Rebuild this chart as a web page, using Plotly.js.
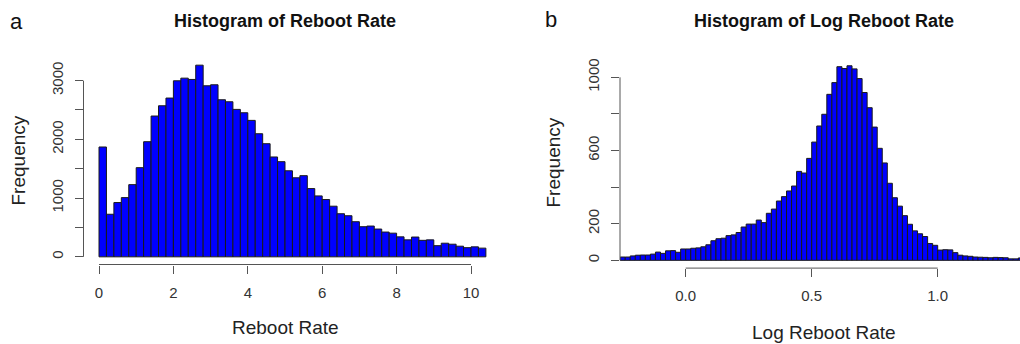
<!DOCTYPE html>
<html>
<head>
<meta charset="utf-8">
<script src="https://cdn.plot.ly/plotly-3.0.1.min.js"></script>
<style>html,body{margin:0;padding:0;background:#fff;}#chart{width:1020px;height:344px;}</style>
</head>
<body>
<div id="chart"></div>
<script>
// ---- Panel a: Reboot Rate histogram (breaks every 0.2 from 0) ----
var rebootBinStart = 0;
var rebootBinWidth = 0.2;
var rebootCounts = [1870, 725, 924, 1008, 1229, 1518, 1960, 2397, 2572, 2703,
  2997, 3042, 3020, 3263, 2912, 2929, 2674, 2640, 2510, 2453,
  2323, 2096, 1926, 1700, 1620, 1465, 1346, 1382, 1162, 1037,
  975, 862, 734, 700, 598, 513, 524, 473, 422, 403,
  340, 289, 337, 281, 289, 190, 232, 215, 181, 156,
  170, 148];
var rebootXTicks = [0, 2, 4, 6, 8, 10];
var rebootXTickText = ['0', '2', '4', '6', '8', '10'];
var rebootYTicks = [0, 500, 1000, 1500, 2000, 2500, 3000];
var rebootYTickText = ['0', '', '1000', '', '2000', '', '3000'];

// ---- Panel b: Log Reboot Rate histogram (breaks every 0.02 from -0.26) ----
var logBinStart = -0.26;
var logBinWidth = 0.02;
var logCounts = [18, 18, 24, 28, 29, 29, 34, 45, 38, 52,
  53, 44, 62, 62, 66, 68, 74, 85, 107, 118,
  121, 135, 139, 152, 182, 198, 198, 220, 206, 257,
  280, 324, 348, 379, 406, 486, 477, 557, 646, 734,
  798, 907, 971, 1058, 1048, 1063, 1046, 993, 917, 834,
  728, 612, 532, 421, 342, 296, 244, 197, 161, 145,
  130, 92, 82, 56, 58, 57, 42, 28, 24, 22,
  18, 17, 16, 14, 16, 15, 14, 8, 8, 13];
var logXTicks = [0, 0.5, 1.0];
var logXTickText = ['0.0', '0.5', '1.0'];
var logYTicks = [0, 200, 400, 600, 800, 1000];
var logYTickText = ['0', '200', '', '600', '', '1000'];

function centers(start, w, n) {
  var out = [];
  for (var i = 0; i < n; i++) out.push(start + (i + 0.5) * w);
  return out;
}

var W = 1020, H = 344;
function px(x) { return x / W; }
function py(y) { return 1 - y / H; }

var FONT = 'Liberation Sans, Arial, Helvetica, sans-serif';
var LINE = '#555555';
var TXT = '#333333';

var traces = [
  {
    type: 'bar',
    x: centers(rebootBinStart, rebootBinWidth, rebootCounts.length),
    y: rebootCounts,
    width: rebootBinWidth,
    marker: {color: '#0000ff', line: {color: '#1a1a1a', width: 1}},
    xaxis: 'x', yaxis: 'y',
    hoverinfo: 'x+y'
  },
  {
    type: 'bar',
    x: centers(logBinStart, logBinWidth, logCounts.length),
    y: logCounts,
    width: logBinWidth,
    marker: {color: '#0000ff', line: {color: '#1a1a1a', width: 1}},
    xaxis: 'x2', yaxis: 'y2',
    hoverinfo: 'x+y'
  }
];

var axisCommon = {
  showgrid: false, zeroline: false, showline: false,
  ticks: 'outside', ticklen: 8, tickwidth: 1, tickcolor: LINE,
  tickfont: {family: FONT, size: 15, color: TXT},
  tickmode: 'array', fixedrange: true
};

function merge(a, b) { var o = {}; for (var k in a) o[k] = a[k]; for (var k2 in b) o[k2] = b[k2]; return o; }

var xDom1 = [px(83.5), px(487)];
var yDom1 = [py(264.5), py(57.5)];
var xDom2 = [px(620), 1];
var yDom2 = [py(268.1), py(58)];

var layout = {
  width: W, height: H,
  margin: {l: 0, r: 0, t: 0, b: 0},
  paper_bgcolor: '#ffffff', plot_bgcolor: '#ffffff',
  showlegend: false,
  bargap: 0,
  xaxis: merge(axisCommon, {domain: xDom1, range: [-0.4167, 10.43], anchor: 'y',
    tickvals: rebootXTicks, ticktext: rebootXTickText, ticklabelstandoff: 6}),
  yaxis: merge(axisCommon, {domain: yDom1, range: [-130.5, 3393.5], anchor: 'x',
    tickvals: rebootYTicks, ticktext: rebootYTickText, tickangle: -90, ticklabelstandoff: 6}),
  xaxis2: merge(axisCommon, {domain: xDom2, range: [-0.2607, 1.3266], anchor: 'y2',
    tickvals: logXTicks, ticktext: logXTickText, ticklabelstandoff: 6}),
  yaxis2: merge(axisCommon, {domain: yDom2, range: [-42.5, 1105.5], anchor: 'x2',
    tickvals: logYTicks, ticktext: logYTickText, tickangle: -90, ticklabelstandoff: 6}),
  shapes: [
    {type: 'line', xref: 'x', yref: 'paper', x0: rebootXTicks[0], x1: rebootXTicks[rebootXTicks.length - 1], y0: yDom1[0], y1: yDom1[0], line: {color: LINE, width: 1}},
    {type: 'line', xref: 'paper', yref: 'y', x0: xDom1[0], x1: xDom1[0], y0: rebootYTicks[0], y1: rebootYTicks[rebootYTicks.length - 1], line: {color: LINE, width: 1}},
    {type: 'line', xref: 'x2', yref: 'paper', x0: logXTicks[0], x1: logXTicks[logXTicks.length - 1], y0: yDom2[0], y1: yDom2[0], line: {color: LINE, width: 1}},
    {type: 'line', xref: 'paper', yref: 'y2', x0: xDom2[0], x1: xDom2[0], y0: logYTicks[0], y1: logYTicks[logYTicks.length - 1], line: {color: LINE, width: 1}}
  ],
  annotations: [
    {text: 'a', xref: 'paper', yref: 'paper', x: px(16), y: py(21), showarrow: false, xanchor: 'center', yanchor: 'middle', font: {family: FONT, size: 22, color: '#111'}},
    {text: 'b', xref: 'paper', yref: 'paper', x: px(551), y: py(20), showarrow: false, xanchor: 'center', yanchor: 'middle', font: {family: FONT, size: 22, color: '#111'}},
    {text: '<b>Histogram of Reboot Rate</b>', xref: 'paper', yref: 'paper', x: px(285), y: py(21), showarrow: false, xanchor: 'center', yanchor: 'middle', font: {family: FONT, size: 18, color: '#111'}},
    {text: '<b>Histogram of Log Reboot Rate</b>', xref: 'paper', yref: 'paper', x: px(824), y: py(21), showarrow: false, xanchor: 'center', yanchor: 'middle', font: {family: FONT, size: 18, color: '#111'}},
    {text: 'Reboot Rate', xref: 'paper', yref: 'paper', x: px(285), y: py(327), showarrow: false, xanchor: 'center', yanchor: 'middle', font: {family: FONT, size: 19, color: '#222'}},
    {text: 'Log Reboot Rate', xref: 'paper', yref: 'paper', x: px(824), y: py(332), showarrow: false, xanchor: 'center', yanchor: 'middle', font: {family: FONT, size: 19, color: '#222'}},
    {text: 'Frequency', xref: 'paper', yref: 'paper', x: px(18.5), y: py(161), showarrow: false, textangle: -90, xanchor: 'center', yanchor: 'middle', font: {family: FONT, size: 19, color: '#222'}},
    {text: 'Frequency', xref: 'paper', yref: 'paper', x: px(553.5), y: py(163), showarrow: false, textangle: -90, xanchor: 'center', yanchor: 'middle', font: {family: FONT, size: 19, color: '#222'}}
  ]
};

Plotly.newPlot('chart', traces, layout, {staticPlot: true, displayModeBar: false});
</script>
</body>
</html>
